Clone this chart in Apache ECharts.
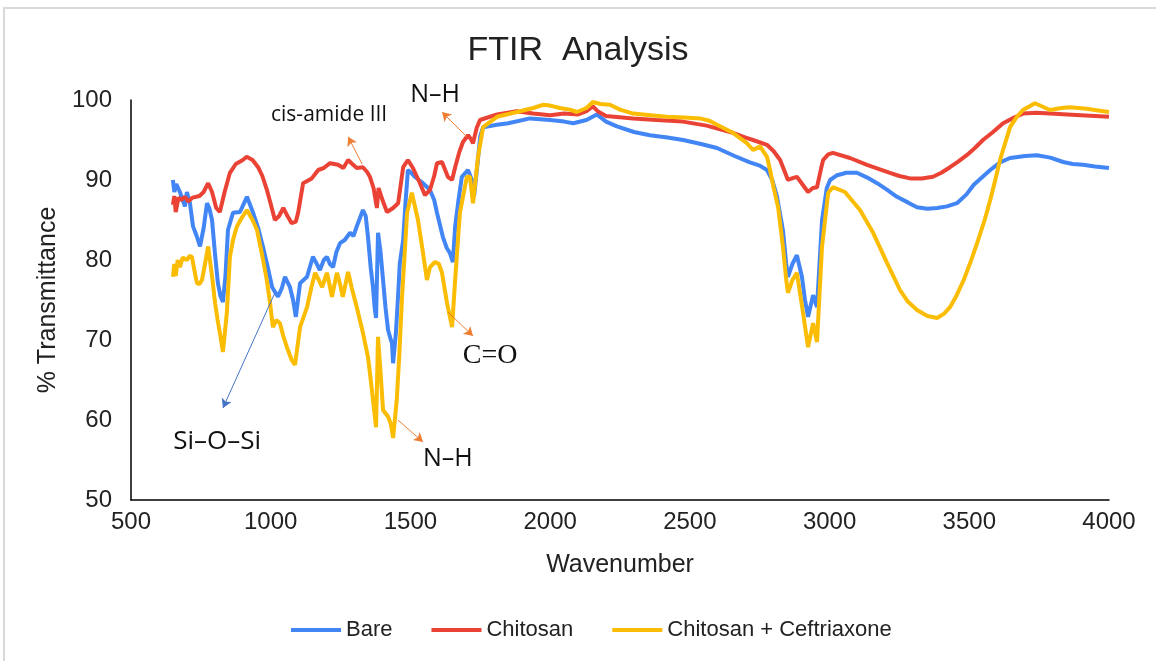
<!DOCTYPE html>
<html><head><meta charset="utf-8">
<script src="https://cdn.jsdelivr.net/npm/echarts@6/dist/echarts.min.js"></script>
<style>html,body{margin:0;padding:0;background:#fff}#c{width:1156px;height:661px}</style>
</head><body><div id="c"></div>
<script>
const seriesNames = ['Bare', 'Chitosan', 'Chitosan + Ceftriaxone'];
const xTicks = [500, 1000, 1500, 2000, 2500, 3000, 3500, 4000];
const yTicks = [50, 60, 70, 80, 90, 100];

// [wavenumber, % transmittance]
const bare = [[650,90],[655,88.5],[662,89.5],[675,88.5],[685,87.5],[693,86.7],[700,88.5],[711,87.1],[722,84.2],[735,83],[747,81.7],[760,84],[772,87.1],[780,86.5],[790,85],[800,81],[811,77.1],[820,75.5],[829,74.75],[838,78],[847,83.75],[865,85.9],[890,86],[915,87.9],[937,85.9],[955,84],[972,81.7],[990,79],[1005,76.6],[1026,75.4],[1040,76.5],[1051,77.9],[1069,76.6],[1080,75],[1090,72.9],[1105,77.1],[1130,77.9],[1151,80.4],[1165,79.5],[1176,78.75],[1190,80],[1201,80.4],[1212,79.5],[1223,79.1],[1235,81],[1248,82.1],[1265,82.5],[1284,83.4],[1296,83],[1308,84.2],[1330,86.25],[1340,85.5],[1348,82.9],[1358,79],[1366,76.6],[1372,74],[1377,72.75],[1384,83.4],[1393,81],[1402,77.5],[1411,74],[1420,71.25],[1430,70],[1434,69.6],[1438,67.1],[1448,70.9],[1455,75],[1462,79.6],[1474,82.5],[1482,87],[1491,91.25],[1500,91],[1516,90.4],[1530,90],[1545,89.6],[1570,88.75],[1585,87.5],[1595,85.9],[1616,82.9],[1630,81.5],[1641,80.9],[1652,79.75],[1660,84.2],[1672,87.5],[1684,90.4],[1706,91.25],[1720,90],[1728,88],[1740,92],[1750,95.5],[1760,96.6],[1810,96.9],[1850,97.1],[1928,97.7],[2000,97.5],[2050,97.3],[2083,97.1],[2130,97.5],[2167,98.2],[2200,97.3],[2239,96.7],[2300,96],[2357,95.6],[2420,95.3],[2476,95],[2540,94.5],[2597,94],[2660,93],[2715,92.2],[2750,91.8],[2776,91.25],[2795,90],[2812,87.9],[2833,83.75],[2845,79.5],[2851,77.9],[2867,79.5],[2883,80.6],[2901,77.9],[2912,75],[2923,72.9],[2941,75.6],[2955,74.1],[2973,85],[2990,89],[3002,90],[3027,90.6],[3060,90.9],[3098,90.9],[3135,90.3],[3170,89.6],[3205,88.8],[3241,87.9],[3280,87.2],[3313,86.6],[3350,86.4],[3385,86.5],[3420,86.7],[3456,87.1],[3490,88.2],[3516,89.4],[3545,90.3],[3575,91.25],[3610,92.2],[3646,92.75],[3700,93],[3742,93.1],[3790,92.8],[3836,92.25],[3870,92],[3907,91.9],[3950,91.7],[4000,91.5]];

const chitosan = [[650,86.9],[655,88],[660,86],[670,87.8],[680,87.5],[693,87.9],[705,87.3],[720,87.8],[745,88],[760,88.5],[776,89.6],[790,88.5],[805,86.5],[818,86],[835,88.5],[854,90.9],[875,92],[900,92.5],[914,92.9],[935,92.5],[955,91.6],[970,90.5],[986,88.8],[1000,87],[1015,85],[1030,85.5],[1045,86.5],[1060,85.5],[1075,84.6],[1090,84.8],[1098,85.9],[1116,89.6],[1147,90.2],[1170,91.25],[1190,91.5],[1212,92.1],[1241,91.9],[1260,91.5],[1277,92.5],[1292,92],[1308,91.5],[1330,91.6],[1345,91],[1355,90.4],[1368,89],[1380,86.5],[1386,89],[1391,89.1],[1400,87.5],[1416,86],[1438,86.5],[1456,87.1],[1474,91.6],[1491,92.5],[1509,91.5],[1522,90.5],[1534,89.6],[1552,88.1],[1570,88.75],[1585,90.5],[1595,92.1],[1613,92.25],[1634,90.4],[1649,90],[1660,91.6],[1675,93.5],[1688,94.75],[1706,95.6],[1715,95.2],[1724,94.6],[1737,96.5],[1749,97.5],[1810,98.2],[1880,98.6],[1939,98.3],[2000,98.1],[2050,98.3],[2100,98.2],[2130,98.6],[2153,99.2],[2170,98.6],[2200,98],[2297,97.7],[2380,97.5],[2475,97.3],[2560,96.8],[2654,95.9],[2700,95.3],[2726,95],[2776,94.4],[2800,93.6],[2823,92.5],[2840,91],[2851,90],[2865,90.2],[2883,90.4],[2900,89.6],[2923,88.5],[2940,89],[2955,89.1],[2970,91.5],[2977,92.5],[2995,93.2],[3012,93.4],[3073,92.75],[3134,91.9],[3175,91.4],[3216,90.9],[3250,90.5],[3288,90.2],[3330,90.2],[3370,90.4],[3400,90.9],[3431,91.6],[3460,92.3],[3491,93.1],[3520,94],[3549,95],[3585,96],[3621,97.1],[3660,97.8],[3692,98.3],[3740,98.4],[3789,98.3],[3850,98.2],[3900,98.1],[3950,98],[4000,97.9]];

const ceftriaxone = [[650,77.9],[655,79.5],[660,78],[667,80],[675,79.1],[685,80.3],[700,80],[710,80.5],[718,80.4],[728,78.5],[736,77.1],[745,77],[754,77.5],[765,79.5],[776,81.7],[790,78],[801,74.6],[810,72.5],[818,70.9],[829,68.5],[843,73.4],[854,80.4],[865,82.5],[879,84.2],[895,85.2],[915,86.25],[935,85],[951,83.75],[970,80.5],[986,77.5],[998,74.5],[1008,71.6],[1020,72.5],[1033,72.1],[1045,70.5],[1058,69.1],[1075,67.5],[1087,66.9],[1095,69],[1105,71.6],[1130,74.1],[1145,76.5],[1159,78.4],[1172,77.5],[1184,76.6],[1201,78.4],[1210,77],[1219,75.4],[1237,78.4],[1248,77],[1258,75.4],[1277,78.5],[1290,76.5],[1308,74.1],[1330,70.9],[1348,67.9],[1358,65],[1366,62.5],[1377,59.1],[1384,70.4],[1393,66],[1402,61.25],[1420,60.4],[1430,59.5],[1438,57.75],[1451,62.5],[1460,68],[1470,75.4],[1478,80],[1488,85.9],[1505,88.4],[1527,85],[1545,80.9],[1559,77.5],[1570,79.1],[1588,79.75],[1602,79.5],[1613,78.4],[1631,74.6],[1649,71.6],[1660,77.5],[1677,85.9],[1702,90.4],[1713,90.4],[1724,87.1],[1742,92.9],[1760,96.6],[1810,97.9],[1881,98.5],[1940,99],[1974,99.4],[2000,99.3],[2035,99],[2070,98.8],[2096,98.5],[2130,99],[2153,99.75],[2180,99.5],[2214,99.4],[2250,98.8],[2297,98.3],[2360,98.1],[2417,97.9],[2480,97.8],[2536,97.7],[2570,97.4],[2597,96.9],[2654,95.9],[2704,94.6],[2726,93.75],[2751,94.2],[2776,92.9],[2787,91.25],[2800,89],[2816,86.6],[2833,81.7],[2845,77.5],[2851,75.9],[2867,77.5],[2883,78.4],[2905,73.4],[2923,69.1],[2941,72.1],[2955,69.75],[2973,81.7],[2995,88.4],[3012,89.1],[3055,88.5],[3109,86.25],[3156,83.4],[3206,79.6],[3252,76.25],[3280,74.8],[3313,73.75],[3350,73],[3385,72.75],[3410,73.3],[3431,74.1],[3455,75.6],[3480,77.5],[3505,79.8],[3528,82.1],[3555,85],[3575,87.5],[3593,90],[3610,92.5],[3630,94.8],[3646,96.6],[3670,97.9],[3692,98.75],[3735,99.6],[3789,98.75],[3830,99],[3861,99.1],[3920,98.9],[3960,98.7],[4000,98.5]];

// annotation texts and arrows in data coordinates
const annoTexts = ['cis-amide III', 'N\u2013H', 'C=O', 'N\u2013H', 'Si\u2013O\u2013Si'];
const annoAt = [[1209, 98.1], [1588, 100.6], [1785, 68], [1634, 55.1], [808, 57.25]];
const arrowFrom = [[1327, 92], [1702, 95.4], [1634, 73.5], [1455, 60], [1015, 75.9]];
const arrowTo = [[1277, 95.4], [1613, 98.5], [1724, 70.5], [1545, 57.25], [829, 61.5]];

const colors = ['#4285f4', '#ea4335', '#fbbc04'];
const arrowColors = ['#ed7d31', '#ed7d31', '#ed7d31', '#ed7d31', '#4472c4'];
const annoFonts = [
  '21px "Open Sans"', '25px "Open Sans"', '28px "Liberation Serif"', '25px "Open Sans"', '26px "Open Sans"'
];

const chart = echarts.init(document.getElementById('c'), null, {renderer: 'canvas'});
const seriesData = [bare, chitosan, ceftriaxone];

const option = {
  animation: false,
  color: colors,
  title: {
    text: 'FTIR  Analysis', left: 'center', top: 29,
    textStyle: {fontFamily: 'Liberation Sans', fontSize: 34, fontWeight: 'normal', color: '#222'}
  },
  legend: {
    data: seriesNames, bottom: 15, left: 286, icon: 'rect',
    itemWidth: 50, itemHeight: 4, itemGap: 39,
    textStyle: {fontFamily: 'Liberation Sans', fontSize: 22, color: '#222'}
  },
  grid: {left: 131, right: 47, top: 100, bottom: 161, containLabel: false},
  xAxis: {
    type: 'value', min: xTicks[0], max: xTicks[xTicks.length - 1], interval: 500,
    name: 'Wavenumber', nameLocation: 'middle', nameGap: 53,
    nameTextStyle: {fontFamily: 'Liberation Sans', fontSize: 25, color: '#222'},
    axisLine: {show: true, lineStyle: {color: '#000', width: 1.5}},
    axisTick: {show: false}, splitLine: {show: false},
    axisLabel: {fontFamily: 'Liberation Sans', fontSize: 24, color: '#222', margin: 10,
      formatter: v => String(v)}
  },
  yAxis: {
    type: 'value', min: yTicks[0], max: yTicks[yTicks.length - 1], interval: 10,
    name: '% Transmittance', nameLocation: 'middle', nameGap: 60, nameRotate: 90,
    nameTextStyle: {fontFamily: 'Liberation Sans', fontSize: 25, color: '#222'},
    axisLine: {show: true, lineStyle: {color: '#000', width: 1.5}},
    axisTick: {show: false}, splitLine: {show: false},
    axisLabel: {fontFamily: 'Liberation Sans', fontSize: 24, color: '#222', margin: 19,
      formatter: v => String(v)}
  },
  series: seriesNames.map((n, i) => ({
    name: n, type: 'line', data: seriesData[i], showSymbol: false, symbol: 'none',
    lineStyle: {width: 4, color: colors[i]}, itemStyle: {color: colors[i]},
    z: 2 + i,
    markLine: i === 2 ? {
      silent: true, symbol: ['none', 'arrow'], symbolSize: [8, 9], animation: false,
      label: {show: false},
      data: arrowFrom.map((f, k) => [
        {coord: f, lineStyle: {color: arrowColors[k], width: 1, type: 'solid'}},
        {coord: arrowTo[k]}
      ])
    } : undefined
  }))
};
chart.setOption(option);

const gfx = [{
  type: 'rect', shape: {x: 4, y: 8, width: 1300, height: 800},
  style: {fill: 'none', stroke: '#d9d9d9', lineWidth: 2}, silent: true, z: -10
}];
annoTexts.forEach((t, k) => {
  const p = chart.convertToPixel({gridIndex: 0}, annoAt[k]);
  gfx.push({
    type: 'text', x: p[0], y: p[1], z: 100,
    style: {text: t, font: annoFonts[k], fill: '#111', align: 'center', verticalAlign: 'middle'}
  });
});
chart.setOption({graphic: gfx});
</script></body></html>
